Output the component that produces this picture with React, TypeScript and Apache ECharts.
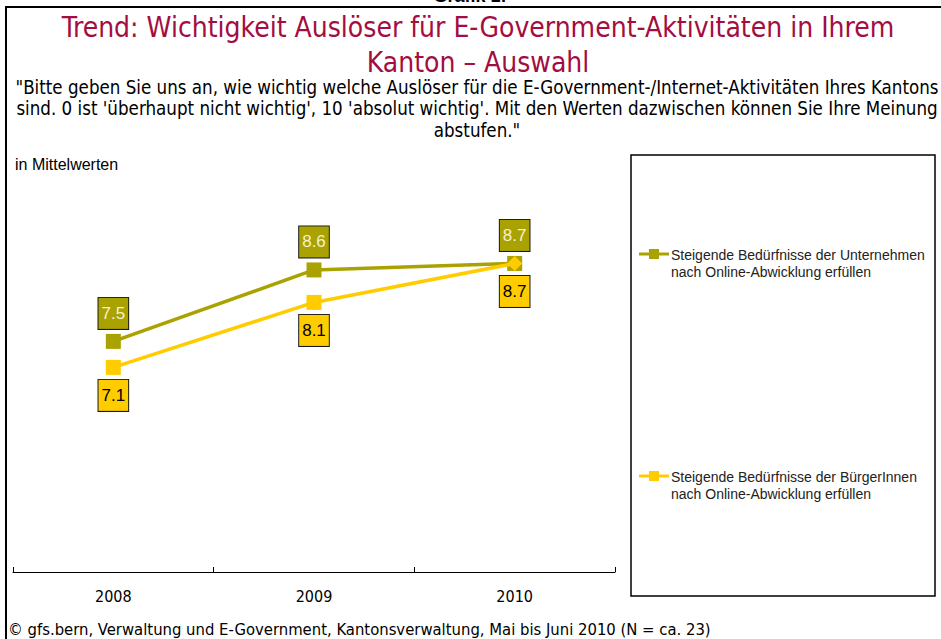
import React, { useEffect, useRef } from "react";
import * as echarts from "echarts";

const categories = ["2008", "2009", "2010"];
const seriesNames = [
  "Steigende Bedürfnisse der Unternehmen\nnach Online-Abwicklung erfüllen",
  "Steigende Bedürfnisse der BürgerInnen\nnach Online-Abwicklung erfüllen",
];
const unternehmenValues = [7.5, 8.6, 8.7];
const buergerValues = [7.1, 8.1, 8.7];
const seriesColors = ["#AAA200", "#FFCC00"];
const labelTextColors = ["#F4F1D2", "#000000"];

const headerText = "Grafik 1:";
const titleLines = [
  "Trend: Wichtigkeit Auslöser für E-Government-Aktivitäten in Ihrem",
  "Kanton – Auswahl",
];
const subtitleLines = [
  "\"Bitte geben Sie uns an, wie wichtig welche Auslöser für die E-Government-/Internet-Aktivitäten Ihres Kantons",
  "sind. 0 ist 'überhaupt nicht wichtig', 10 'absolut wichtig'. Mit den Werten dazwischen können Sie Ihre Meinung",
  "abstufen.\"",
];
const unitText = "in Mittelwerten";
const footerText =
  "© gfs.bern, Verwaltung und E-Government, Kantonsverwaltung, Mai bis Juni 2010 (N = ca. 23)";

const FONT = '"Liberation Sans", Arial, sans-serif';
const CFONT = '"DejaVu Sans Condensed", "DejaVu Sans", sans-serif';

export default function App() {
  const ref = useRef<HTMLDivElement>(null);

  useEffect(() => {
    if (!ref.current) return;
    const chart = echarts.init(ref.current, null, { renderer: "svg" });

    const makeLabel = (i: number, pos: "top" | "bottom") => ({
      show: true,
      position: pos,
      distance: 5,
      color: labelTextColors[i],
      fontFamily: FONT,
      fontSize: 17,
      lineHeight: 19,
      backgroundColor: seriesColors[i],
      borderColor: "#1a1a1a",
      borderWidth: 1,
      padding: [6, 3, 6, 3],
      formatter: (p: any) => Number(p.value).toFixed(1),
    });

    const legendY = [254, 476];
    const legendGraphics: any[] = [];
    seriesNames.forEach((name, i) => {
      legendGraphics.push({
        type: "line",
        shape: { x1: 639, y1: legendY[i], x2: 669, y2: legendY[i] },
        style: { stroke: seriesColors[i], lineWidth: 3 },
      });
      legendGraphics.push({
        type: "rect",
        shape: { x: 649, y: legendY[i] - 5, width: 10, height: 10 },
        style: { fill: seriesColors[i] },
      });
      legendGraphics.push({
        type: "text",
        x: 671,
        y: legendY[i] - 8,
        style: {
          text: name,
          font: `14px ${FONT}`,
          fill: "#222",
          textVerticalAlign: "top",
          lineHeight: 17,
        },
      });
    });

    const option: any = {
      animation: false,
      backgroundColor: "#ffffff",
      grid: { left: 13, right: 326, top: 179, bottom: 67, containLabel: false },
      xAxis: {
        type: "category",
        data: categories,
        boundaryGap: true,
        axisLine: { show: true, lineStyle: { color: "#000", width: 1 } },
        axisTick: {
          show: true,
          inside: true,
          length: 5,
          interval: 0,
          lineStyle: { color: "#000", width: 1 },
        },
        axisLabel: { color: "#000", fontFamily: CFONT, fontSize: 16, margin: 16 },
        splitLine: { show: false },
      },
      yAxis: { type: "value", min: 3.95, max: 10, show: false },
      series: [
        {
          name: seriesNames[0],
          type: "line",
          data: unternehmenValues,
          symbol: "rect",
          symbolSize: 15,
          lineStyle: { color: seriesColors[0], width: 3.5 },
          itemStyle: { color: seriesColors[0] },
          label: makeLabel(0, "top"),
          z: 2,
        },
        {
          name: seriesNames[1],
          type: "line",
          data: buergerValues.map((v, idx) =>
            idx === buergerValues.length - 1
              ? { value: v, symbol: "diamond", symbolSize: 15 }
              : v
          ),
          symbol: "rect",
          symbolSize: 15,
          lineStyle: { color: seriesColors[1], width: 3.5 },
          itemStyle: { color: seriesColors[1] },
          label: makeLabel(1, "bottom"),
          z: 3,
        },
      ],
      graphic: [
        {
          type: "text",
          x: 470,
          y: -4,
          style: {
            text: headerText,
            font: `bold 18px ${FONT}`,
            fill: "#000",
            textAlign: "center",
            textVerticalAlign: "middle",
          },
        },
        {
          type: "line",
          shape: { x1: 6, y1: 7, x2: 941, y2: 7 },
          style: { stroke: "#000", lineWidth: 2 },
        },
        {
          type: "line",
          shape: { x1: 6, y1: 6, x2: 6, y2: 639 },
          style: { stroke: "#000", lineWidth: 2 },
        },
        ...titleLines.map((t, i) => ({
          type: "text",
          x: 478,
          y: 27 + i * 35,
          style: {
            text: t,
            font: `28px ${CFONT}`,
            fill: "#A30D3F",
            textAlign: "center",
            textVerticalAlign: "middle",
          },
        })),
        ...subtitleLines.map((t, i) => ({
          type: "text",
          x: 477,
          y: 87 + i * 21.5,
          style: {
            text: t,
            font: `18.6px ${CFONT}`,
            fill: "#000",
            textAlign: "center",
            textVerticalAlign: "middle",
          },
        })),
        {
          type: "text",
          x: 15,
          y: 164,
          style: {
            text: unitText,
            font: `16px ${FONT}`,
            fill: "#000",
            textVerticalAlign: "middle",
          },
        },
        {
          type: "rect",
          shape: { x: 631, y: 155, width: 304, height: 441 },
          style: { fill: "none", stroke: "#000", lineWidth: 1.5 },
        },
        ...legendGraphics,
        {
          type: "text",
          x: 8,
          y: 629,
          style: {
            text: footerText,
            font: `16.5px ${CFONT}`,
            fill: "#000",
            textVerticalAlign: "middle",
          },
        },
      ],
    };

    chart.setOption(option);
    return () => chart.dispose();
  }, []);

  return (
    <div
      ref={ref}
      style={{ position: "fixed", left: 0, top: 0, width: 941, height: 639 }}
    />
  );
}
